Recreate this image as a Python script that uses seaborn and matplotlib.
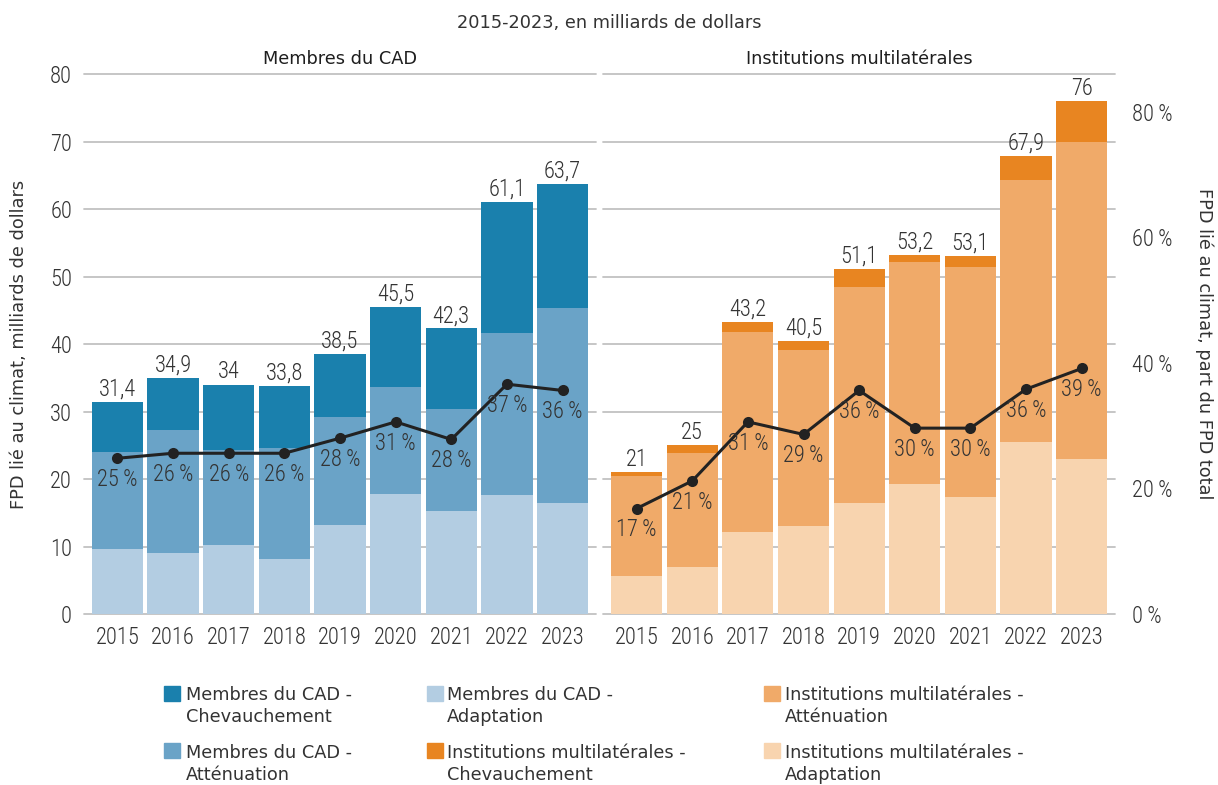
import numpy as np
import pandas as pd
import matplotlib
matplotlib.use("Agg")
import matplotlib.pyplot as plt
import seaborn as sns
from matplotlib.patches import Rectangle
from matplotlib import font_manager
from matplotlib.textpath import TextPath
from matplotlib.font_manager import FontProperties

# ---------------- data ----------------
years = ["2015", "2016", "2017", "2018", "2019", "2020", "2021", "2022", "2023"]

dac_adaptation = [9.6, 9.1, 10.2, 8.2, 13.2, 17.8, 15.3, 17.7, 16.5]
dac_attenuation = [14.4, 18.2, 14.1, 16.4, 16.0, 15.9, 15.1, 23.9, 28.8]
dac_chevauchement = [7.4, 7.6, 9.7, 9.2, 9.3, 11.8, 11.9, 19.5, 18.4]
dac_share = [24.8, 25.6, 25.6, 25.6, 28.0, 30.6, 27.8, 36.6, 35.6]

mdb_adaptation = [5.6, 6.9, 12.2, 13.1, 16.5, 19.3, 17.4, 25.5, 22.9]
mdb_attenuation = [14.9, 16.9, 29.6, 26.0, 32.0, 32.9, 34.0, 38.8, 47.0]
mdb_chevauchement = [0.5, 1.2, 1.4, 1.4, 2.6, 1.0, 1.7, 3.6, 6.1]
mdb_share = [16.8, 21.2, 30.6, 28.6, 35.6, 29.6, 29.6, 35.8, 39.1]

panel_titles = ["Membres du CAD", "Institutions multilatérales"]
subtitle = "2015-2023, en milliards de dollars"
ylabel_left = "FPD lié au climat, milliards de dollars"
ylabel_right = "FPD lié au climat, part du FPD total"
legend_labels = [
    "Membres du CAD - Chevauchement",
    "Membres du CAD - Atténuation",
    "Membres du CAD - Adaptation",
    "Institutions multilatérales - Chevauchement",
    "Institutions multilatérales - Atténuation",
    "Institutions multilatérales - Adaptation",
]
y_ticks = [0, 10, 20, 30, 40, 50, 60, 70, 80]
pct_ticks = [0, 20, 40, 60, 80]

# ---------------- style ----------------
sns.set_style("white")
plt.rcParams["font.family"] = ["DejaVu Sans"]

# pick the narrowest available family for numbers, size it on the ink width of "2015"
fonts = font_manager.fontManager.ttflist
installed = {f.name for f in fonts}
num_candidates = ["Roboto Condensed", "Liberation Sans Narrow", "DejaVu Sans Condensed",
                  "Roboto", "DejaVu Sans"]
num_family = next(f for f in num_candidates if f in installed)
has_light = any(f.name == num_family and f.weight in (300, "light") for f in fonts)
NUM_WEIGHT = "light" if has_light else "normal"
NUM_FONT = [num_family, "DejaVu Sans"]
_ink = TextPath((0, 0), "2015", size=100,
                prop=FontProperties(family=num_family, weight=NUM_WEIGHT)).get_extents().width
NUM_SIZE = 41.7 * 72 / _ink

TXT = "#333333"
GRID = "#c2c2c2"
WORD_SIZE = 12.8

dac_colors = {"chev": "#1a80ad", "atten": "#6aa3c7", "adapt": "#b3cde2"}
mdb_colors = {"chev": "#e88521", "atten": "#f0aa69", "adapt": "#f8d4af"}
legend_colors = [dac_colors["chev"], dac_colors["atten"], dac_colors["adapt"],
                 mdb_colors["chev"], mdb_colors["atten"], mdb_colors["adapt"]]

W, H = 1218, 785
fig = plt.figure(figsize=(W / 100, H / 100), dpi=100)
fig.patch.set_facecolor("white")


def fx(px):
    return px / W


def fy(py):
    return 1 - py / H


ax_l = fig.add_axes([fx(84), fy(614), (596 - 84) / W, 540 / H])
ax_r = fig.add_axes([fx(603.3), fy(614), (1115 - 603.3) / W, 540 / H], sharey=ax_l)


def fmt_val(v):
    v = round(v, 1)
    if abs(v - round(v)) < 1e-9:
        return f"{int(round(v))}"
    return f"{v:.1f}".replace(".", ",")


def style_nums(labels):
    for lbl in labels:
        lbl.set_fontfamily(NUM_FONT)
        lbl.set_fontweight(NUM_WEIGHT)


def draw_panel(ax, adapt, atten, chev, share, colors, show_right):
    df = pd.DataFrame({"year": years, "adapt": adapt, "atten": atten, "chev": chev})
    df["lvl1"] = df["adapt"]
    df["lvl2"] = df["adapt"] + df["atten"]
    df["lvl3"] = df["lvl2"] + df["chev"]
    for col, key in [("lvl3", "chev"), ("lvl2", "atten"), ("lvl1", "adapt")]:
        sns.barplot(data=df, x="year", y=col, color=colors[key], saturation=1,
                    width=0.92, linewidth=0, errorbar=None, ax=ax, zorder=2)
    for i, tot in enumerate(df["lvl3"]):
        ax.annotate(fmt_val(tot), (i, tot), xytext=(0, 1), textcoords="offset points",
                    ha="center", va="bottom", fontsize=NUM_SIZE, color=TXT,
                    family=NUM_FONT, fontweight=NUM_WEIGHT, zorder=6)
    ax.set_xlabel("")
    ax.set_ylabel("")
    ax.set_ylim(0, 80)
    ax.set_yticks(y_ticks)
    ax.yaxis.grid(True, color=GRID, lw=1.3)
    ax.xaxis.grid(False)
    ax.set_axisbelow(True)
    for s in ax.spines.values():
        s.set_visible(False)
    ax.tick_params(axis="x", length=0, pad=9, labelsize=NUM_SIZE, labelcolor=TXT)
    ax.tick_params(axis="y", length=0, pad=8.6, labelsize=NUM_SIZE, labelcolor=TXT)
    style_nums(ax.get_xticklabels() + ax.get_yticklabels())
    for gl in ax.get_ygridlines():
        gl.set_clip_on(False)

    tw = ax.twinx()
    sns.lineplot(x=np.arange(len(years)), y=share, ax=tw, color="#222222", lw=2.2,
                 marker="o", markersize=8, markeredgewidth=0, zorder=4)
    tw.set_ylim(0, 86)
    tw.set_xlabel("")
    tw.set_ylabel("")
    for s in tw.spines.values():
        s.set_visible(False)
    for i, v in enumerate(share):
        tw.annotate(f"{v:.0f}\u2009%", (i, v), xytext=(0, -7), textcoords="offset points",
                    ha="center", va="top", fontsize=NUM_SIZE, color=TXT,
                    family=NUM_FONT, fontweight=NUM_WEIGHT, zorder=6)
    if show_right:
        tw.set_yticks(pct_ticks)
        tw.set_yticklabels([f"{t}\u2009%" for t in pct_ticks])
        tw.tick_params(axis="y", length=0, pad=12.5, labelsize=NUM_SIZE, labelcolor=TXT)
        style_nums(tw.get_yticklabels())
    else:
        tw.set_yticks([])
    ax.set_xlim(-0.6, len(years) - 0.4)
    return tw


draw_panel(ax_l, dac_adaptation, dac_attenuation, dac_chevauchement, dac_share,
           dac_colors, False)
draw_panel(ax_r, mdb_adaptation, mdb_attenuation, mdb_chevauchement, mdb_share,
           mdb_colors, True)
ax_r.tick_params(axis="y", labelleft=False)

# titles
fig.text(0.5, fy(28), subtitle, ha="center", va="baseline", fontsize=WORD_SIZE, color=TXT)
fig.text(fx(340), fy(64), panel_titles[0], ha="center", va="baseline",
         fontsize=WORD_SIZE, color="#1e1e1e")
fig.text(fx(859), fy(64), panel_titles[1], ha="center", va="baseline",
         fontsize=WORD_SIZE, color="#1e1e1e")
fig.text(fx(19), fy(344), ylabel_left, rotation=90, ha="center", va="center",
         fontsize=WORD_SIZE, color=TXT)
fig.text(fx(1204), fy(344), ylabel_right, rotation=270, ha="center", va="center",
         fontsize=WORD_SIZE, color=TXT)

# legend (manual, three columns)
sq_x = [164, 426.5, 764]
tx_x = [186, 447, 785]
row_base = [700, 757.5]
for k, (lab, col) in enumerate(zip(legend_labels, legend_colors)):
    c, r = k // 2, k % 2
    base = row_base[r]
    fig.patches.append(Rectangle((fx(sq_x[c]), fy(base + 0.5)), 16 / W, 15 / H,
                                 transform=fig.transFigure, color=col))
    first, second = lab.split(" - ")
    fig.text(fx(tx_x[c]), fy(base), first + " -", ha="left", va="baseline",
             fontsize=WORD_SIZE, color=TXT)
    fig.text(fx(tx_x[c]), fy(base + 22), second, ha="left", va="baseline",
             fontsize=WORD_SIZE, color=TXT)

fig.savefig("out.png", dpi=100)
